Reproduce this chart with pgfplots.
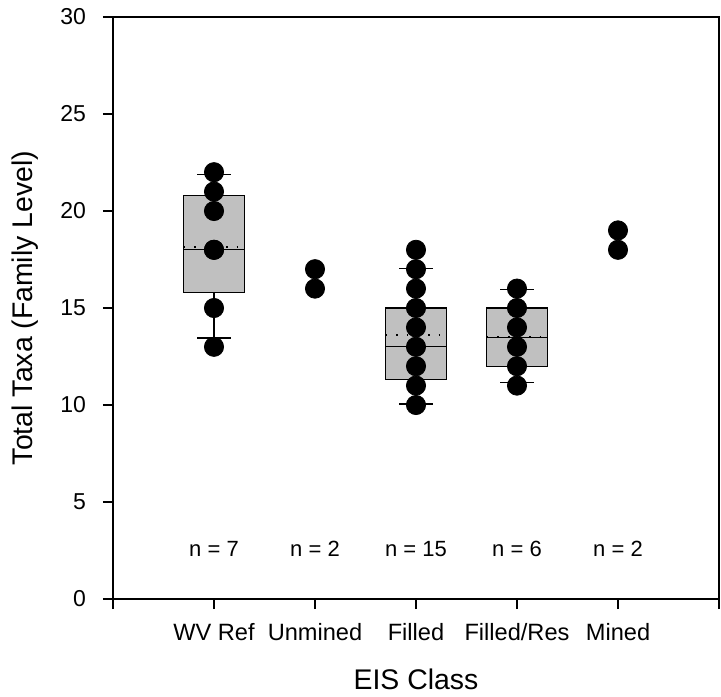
\documentclass[border=0pt]{standalone}
\usepackage{fontspec}
\setmainfont{Liberation Sans}
\usepackage{pgfplots}
\pgfplotsset{compat=1.18}
\usetikzlibrary{calc}
\definecolor{boxgray}{RGB}{192,192,192}
\begin{document}
\begin{tikzpicture}
\begin{axis}[
  name=ax,
  scale only axis,
  width=303pt, height=291pt,
  xmin=0, xmax=6, ymin=0, ymax=30,
  xtick={0,1,2,3,4,5,6},
  xticklabels={,WV Ref,Unmined,Filled,Filled/Res,Mined,},
  ytick={0,5,10,15,20,25,30},
  xtick pos=bottom, ytick pos=left,
  tick align=outside,
  major tick length=5pt,
  tick style={black, line width=0.6pt},
  axis line style={line width=0.6pt},
  /pgf/number format/assume math mode=true,
  yticklabel style={font=\fontsize{11.5}{13}\selectfont, xshift=-5pt},
  xticklabel style={font=\fontsize{11.8}{14}\selectfont, yshift=-3.5pt},
  every axis x label/.style={at={(axis description cs:0.5,0)}, anchor=center, yshift=-40pt, font=\fontsize{14.2}{17}\selectfont},
  every axis y label/.style={at={(axis description cs:0,0.5)}, anchor=center, xshift=-44pt, rotate=90, font=\fontsize{14.2}{17}\selectfont},
  xlabel={EIS Class},
  ylabel={Total Taxa (Family Level)},
  clip=false,
]
% ---- WV Ref box (x=1)
\addplot[draw=black, fill=boxgray, line width=0.6pt] coordinates {(0.7,15.8) (1.3,15.8) (1.3,20.8) (0.7,20.8)} --cycle;
\addplot[black, line width=0.6pt] coordinates {(0.7,18) (1.3,18)};
\addplot[black, line width=0.6pt] coordinates {(1,15.8) (1,13.45)};
\addplot[black, line width=0.6pt] coordinates {(1,20.8) (1,21.9)};
\addplot[black, line width=0.6pt] coordinates {(0.835,13.45) (1.165,13.45)};
\addplot[black, line width=0.6pt] coordinates {(0.835,21.9) (1.165,21.9)};
% ---- Filled box (x=3)
\addplot[draw=black, fill=boxgray, line width=0.6pt] coordinates {(2.7,11.3) (3.3,11.3) (3.3,15) (2.7,15)} --cycle;
\addplot[black, line width=0.6pt] coordinates {(2.7,13) (3.3,13)};
\addplot[black, line width=0.6pt] coordinates {(3,11.3) (3,10.05)};
\addplot[black, line width=0.6pt] coordinates {(3,15) (3,17.05)};
\addplot[black, line width=0.6pt] coordinates {(2.835,10.05) (3.165,10.05)};
\addplot[black, line width=0.6pt] coordinates {(2.835,17.05) (3.165,17.05)};
% ---- Filled/Res box (x=4)
\addplot[draw=black, fill=boxgray, line width=0.6pt] coordinates {(3.7,12) (4.3,12) (4.3,15) (3.7,15)} --cycle;
\addplot[black, line width=0.6pt] coordinates {(3.7,13.5) (4.3,13.5)};
\addplot[black, line width=0.6pt] coordinates {(4,12) (4,11.15)};
\addplot[black, line width=0.6pt] coordinates {(4,15) (4,15.95)};
\addplot[black, line width=0.6pt] coordinates {(3.835,11.15) (4.165,11.15)};
\addplot[black, line width=0.6pt] coordinates {(3.835,15.95) (4.165,15.95)};
% means (dotted)
\addplot[black, line width=0.8pt, dash pattern=on 0.8pt off 4.5pt] coordinates {(0.7,18.14) (1.3,18.14)};
\addplot[black, line width=0.8pt, dash pattern=on 0.8pt off 4.5pt] coordinates {(2.7,13.6) (3.3,13.6)};
\addplot[black, line width=0.8pt, dash pattern=on 0.8pt off 4.5pt] coordinates {(3.7,13.5) (4.3,13.5)};
% data points
\addplot[only marks, mark=*, mark size=4.8pt, black] coordinates {
 (1,22) (1,21) (1,20) (1,18) (1,18) (1,15) (1,13)
 (2,17) (2,16)
 (3,18) (3,17) (3,16) (3,15) (3,14) (3,13) (3,12) (3,11) (3,10)
 (4,16) (4,15) (4,14) (4,13) (4,12) (4,11)
 (5,19) (5,18)
};
% n labels
\node[font=\fontsize{11}{13}\selectfont] at (axis cs:1,2.6) {n = 7};
\node[font=\fontsize{11}{13}\selectfont] at (axis cs:2,2.6) {n = 2};
\node[font=\fontsize{11}{13}\selectfont] at (axis cs:3,2.6) {n = 15};
\node[font=\fontsize{11}{13}\selectfont] at (axis cs:4,2.6) {n = 6};
\node[font=\fontsize{11}{13}\selectfont] at (axis cs:5,2.6) {n = 2};
\end{axis}
\pgfresetboundingbox
\path ($(ax.south west)+(-56.5pt,-48.5pt)$) rectangle ($(ax.north east)+(1pt,8.5pt)$);
\end{tikzpicture}
\end{document}
